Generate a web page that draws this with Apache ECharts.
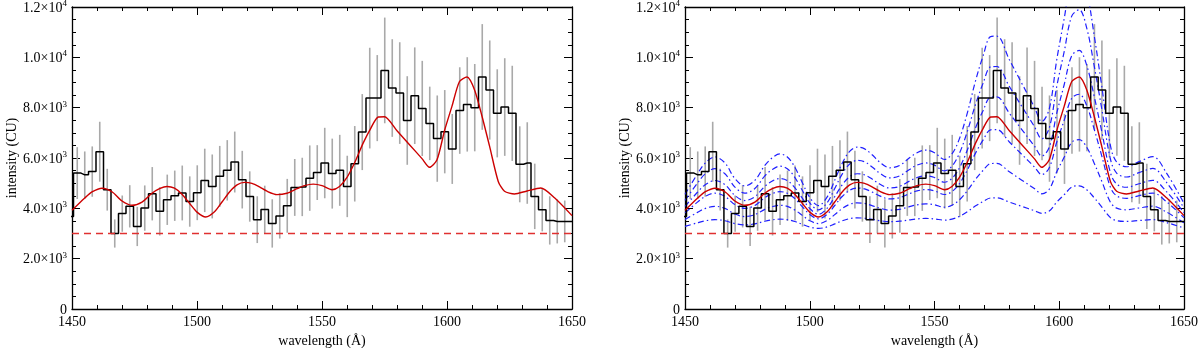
<!DOCTYPE html>
<html>
<head>
<meta charset="utf-8">
<script src="https://cdn.jsdelivr.net/npm/echarts@6/dist/echarts.min.js"></script>
<style>
  html, body { margin: 0; padding: 0; background: #fff; }
  #chart { width: 1200px; height: 348px; }
</style>
</head>
<body>
<div id="chart"></div>
<script>
// histogram bins (centre wavelength, counts, half error)
var binCenters = [
  1449.1,1452.1,1455.1,1458.1,1461.1,1464.1,1467.1,1470.1,1473.1,1476.1,
  1479.1,1482.1,1485.1,1488.1,1491.1,1494.1,1497.1,1500.1,1503.1,1506.1,
  1509.1,1512.1,1515.1,1518.1,1521.1,1524.1,1527.1,1530.1,1533.1,1536.1,
  1539.1,1542.1,1545.1,1548.1,1551.1,1554.1,1557.1,1560.1,1563.1,1566.1,
  1569.1,1572.1,1575.1,1578.1,1581.1,1584.1,1587.1,1590.1,1593.1,1596.1,
  1599.1,1602.1,1605.1,1608.1,1611.1,1614.1,1617.1,1620.1,1623.1,1626.1,
  1629.1,1632.1,1635.1,1638.1,1641.1,1644.1,1647.1,1650.1
];
var counts = [
  3680,5400,5330,5460,6250,4740,3000,3790,4080,3280,
  4010,4580,3880,4340,4500,4610,4270,4620,5110,4870,
  5270,5510,5840,5140,4470,3550,3950,3400,3700,4100,
  4830,4850,5200,5420,5800,5380,5510,4870,5770,7030,
  8380,8380,9480,8780,8580,7490,8475,7970,7375,6770,
  7045,6360,7885,8130,8000,9220,8700,7775,8025,7775,
  5750,5800,4475,3945,3520,3480,3480,3480
];
var errors = [
  900,1030,930,1000,1190,830,560,720,840,780,
  900,1060,960,1000,1000,1090,1000,1090,1260,1270,
  1210,1200,1210,1145,1000,930,950,960,900,1070,
  1130,1160,1300,1090,1400,1390,1410,1220,1500,1510,
  2000,1710,2100,1940,2020,1760,1920,1890,1460,1715,
  1655,1390,1720,1875,1735,2100,1970,1750,1940,1890,
  1510,1620,1300,860,960,875,830,830
];

// model curve (red) and the blue family, on the same wavelength nodes
var modelWave = [
  1450,1455,1458,1462,1466,1470,1474,1478,1482,1485,1488,1491,1494,1497,1500,
  1503.5,1507,1510,1513,1516,1519,1522,1525,1528,1532,1536,1540,1543,1546.5,1550,
  1554,1557,1560,1563,1566.5,1569.5,1572.5,1575,1580,1585,1590,1593,1596,1599,1602,
  1605,1608,1611,1614,1617,1620.5,1623,1627,1632,1637.5,1643,1650
];
var model = [
  3920,4400,4650,4800,4660,4290,4120,4250,4600,4780,4870,4800,4560,4200,3850,
  3655,3860,4250,4650,4930,5030,4990,4850,4680,4545,4600,4780,4900,4960,4900,
  4740,4870,5230,5800,6600,7180,7630,7640,7085,6530,5975,5630,5930,7085,8060,
  9040,9217,8713,7660,6480,5070,4680,4570,4690,4807,4420,3710
];
var blue1 = [
  4555,5366,5789,6042,5805,5180,4893,5113,5704,6008,6160,6042,5636,5028,4437,
  4107,4453,5113,5789,6262,6431,6363,6127,5839,5611,5704,6008,6211,6312,6211,
  5941,6160,6769,7732,9084,10064,10825,10842,9904,8966,8028,7445,7952,9904,11551,
  13208,13507,12655,10875,8881,6498,5839,5653,5856,6054,5400,4200
];
var blue2 = [
  4316,5002,5360,5574,5374,4845,4602,4788,5288,5545,5674,5574,5231,4716,4216,
  3937,4230,4788,5360,5760,5903,5846,5646,5402,5209,5288,5545,5717,5803,5717,
  5488,5674,6189,7004,8148,8977,9621,9635,8842,8048,7254,6761,7190,8842,10236,
  11637,11890,11170,9664,7976,5960,5402,5245,5417,5584,5031,4015
];
var blue3 = [
  4076,4638,4931,5106,4942,4509,4310,4463,4872,5083,5188,5106,4825,4404,3995,
  3766,4006,4463,4931,5258,5375,5328,5165,4966,4808,4872,5083,5223,5293,5223,
  5036,5188,5609,6276,7212,7891,8417,8429,7779,7130,6481,6077,6428,7779,8920,
  10067,10274,9684,8452,7072,5422,4966,4837,4977,5114,4661,3831
];
var blue4 = [
  3819,4246,4469,4602,4477,4148,3997,4113,4424,4584,4664,4602,4388,4068,3757,
  3583,3765,4113,4469,4718,4807,4771,4647,4495,4375,4424,4584,4691,4744,4691,
  4549,4664,4985,5492,6204,6720,7121,7130,6636,6142,5648,5341,5608,6636,7503,
  8376,8533,8085,7147,6097,4842,4495,4397,4504,4608,4264,3632
];
var blue5 = [
  3552,3840,3990,4080,3996,3774,3672,3750,3960,4068,4122,4080,3936,3720,3510,
  3393,3516,3750,3990,4158,4218,4194,4110,4008,3927,3960,4068,4140,4176,4140,
  4044,4122,4338,4680,5160,5508,5778,5784,5451,5118,4785,4578,4758,5451,6036,
  6624,6730,6428,5796,5088,4242,4008,3942,4014,4084,3852,3426
];
var blue6 = [
  3281,3427,3503,3549,3506,3393,3342,3381,3488,3543,3570,3549,3476,3366,3259,
  3200,3262,3381,3503,3589,3619,3607,3564,3512,3471,3488,3543,3580,3598,3580,
  3531,3570,3680,3854,4098,4275,4412,4415,4246,4077,3907,3802,3894,4246,4543,
  4842,4896,4742,4421,4061,3631,3512,3479,3515,3551,3433,3217
];
var blueLines = [blue1, blue2, blue3, blue4, blue5, blue6];

var background = 3000;
var xRange = [1450, 1650];
var yTickValues = [0, 2000, 4000, 6000, 8000, 10000, 12000];
var yTickMant = ['0', '2.0', '4.0', '6.0', '8.0', '1.0', '1.2'];
var yTickExp = ['', '3', '3', '3', '3', '4', '4'];

var FONT = 'Liberation Serif';

function pairs(xs, ys) {
  return xs.map(function (x, i) { return [x, ys[i]]; });
}

function xAxisPair(g) {
  var base = {
    type: 'value', gridIndex: g, min: xRange[0], max: xRange[1], interval: 50,
    axisLine: { onZero: false, lineStyle: { color: '#000', width: 1.3 } },
    axisTick: { inside: true, length: 8, lineStyle: { color: '#000', width: 1 } },
    minorTick: { show: true, splitNumber: 5, length: 4, lineStyle: { color: '#000', width: 1 } },
    splitLine: { show: false }
  };
  var bottom = Object.assign({}, base, {
    position: 'bottom',
    name: 'wavelength (Å)', nameLocation: 'middle', nameGap: 22,
    nameTextStyle: { fontFamily: FONT, fontSize: 14, color: '#000' },
    axisLabel: { fontFamily: FONT, fontSize: 14, color: '#000', margin: 6,
      showMinLabel: true, showMaxLabel: true, hideOverlap: false,
      formatter: function (v) { return String(v); } }
  });
  var top = Object.assign({}, base, { position: 'top', axisLabel: { show: false } });
  return [bottom, top];
}

function yAxisPair(g) {
  var base = {
    type: 'value', gridIndex: g, min: 0, max: 12000, interval: 2000,
    axisLine: { onZero: false, lineStyle: { color: '#000', width: 1.3 } },
    axisTick: { inside: true, length: 8, lineStyle: { color: '#000', width: 1 } },
    minorTick: { show: true, splitNumber: 4, length: 4, lineStyle: { color: '#000', width: 1 } },
    splitLine: { show: false }
  };
  var left = Object.assign({}, base, {
    position: 'left',
    name: 'intensity (CU)', nameLocation: 'middle', nameGap: 52,
    nameTextStyle: { fontFamily: FONT, fontSize: 14, color: '#000' },
    axisLabel: {
      margin: 5, showMinLabel: true, showMaxLabel: true, hideOverlap: false,
      formatter: function (v) {
        var i = yTickValues.indexOf(v);
        if (i < 0) return '';
        if (!yTickExp[i]) return '{m|' + yTickMant[i] + '}';
        return '{m|' + yTickMant[i] + '×10}{s|' + yTickExp[i] + '}';
      },
      rich: {
        m: { fontFamily: FONT, fontSize: 14, color: '#000', lineHeight: 16, verticalAlign: 'bottom' },
        s: { fontFamily: FONT, fontSize: 9, color: '#000', lineHeight: 10, verticalAlign: 'top' }
      }
    }
  });
  var right = Object.assign({}, base, { position: 'right', axisLabel: { show: false } });
  return [left, right];
}

function panelSeries(g, withBlue) {
  var xi = g * 2, yi = g * 2;
  var list = [];
  var bars = [];
  binCenters.forEach(function (x, i) {
    if (x >= xRange[0] && x <= xRange[1]) bars.push([x, counts[i] - errors[i], counts[i] + errors[i]]);
  });
  list.push({
    type: 'custom', xAxisIndex: xi, yAxisIndex: yi, z: 1, silent: true,
    data: bars,
    renderItem: function (params, api) {
      var p1 = api.coord([api.value(0), api.value(1)]);
      var p2 = api.coord([api.value(0), api.value(2)]);
      return { type: 'line', shape: { x1: p1[0], y1: p1[1], x2: p2[0], y2: p2[1] },
        style: { stroke: '#a9a9a9', lineWidth: 1.6 } };
    }
  });
  if (withBlue) {
    blueLines.forEach(function (b) {
      list.push({
        type: 'line', xAxisIndex: xi, yAxisIndex: yi, z: 2, silent: true,
        data: pairs(modelWave, b), showSymbol: false, smooth: 0.35, clip: true,
        lineStyle: { color: '#1f1fff', width: 1.2, type: [6, 3, 1.5, 3] }
      });
    });
  }
  list.push({
    type: 'line', xAxisIndex: xi, yAxisIndex: yi, z: 3, silent: true,
    data: pairs(binCenters, counts), step: 'middle', showSymbol: false, clip: true,
    lineStyle: { color: '#000', width: 1.5 }
  });
  list.push({
    type: 'line', xAxisIndex: xi, yAxisIndex: yi, z: 4, silent: true,
    data: pairs(modelWave, model), showSymbol: false, smooth: 0.25, clip: true,
    lineStyle: { color: '#cc0000', width: 1.4 }
  });
  list.push({
    type: 'line', xAxisIndex: xi, yAxisIndex: yi, z: 4, silent: true,
    data: [[xRange[0], background], [xRange[1], background]], showSymbol: false,
    lineStyle: { color: '#e03030', width: 1.5, type: [7, 5] }
  });
  return list;
}

var chart = echarts.init(document.getElementById('chart'), null, { renderer: 'canvas' });
chart.setOption({
  animation: false,
  backgroundColor: '#fff',
  grid: [
    { left: 72, right: 628, top: 7, bottom: 39, containLabel: false, outerBoundsMode: 'none' },
    { left: 685, right: 16, top: 7, bottom: 39, containLabel: false, outerBoundsMode: 'none' }
  ],
  xAxis: xAxisPair(0).concat(xAxisPair(1)),
  yAxis: yAxisPair(0).concat(yAxisPair(1)),
  series: panelSeries(0, false).concat(panelSeries(1, true))
});
</script>
</body>
</html>
